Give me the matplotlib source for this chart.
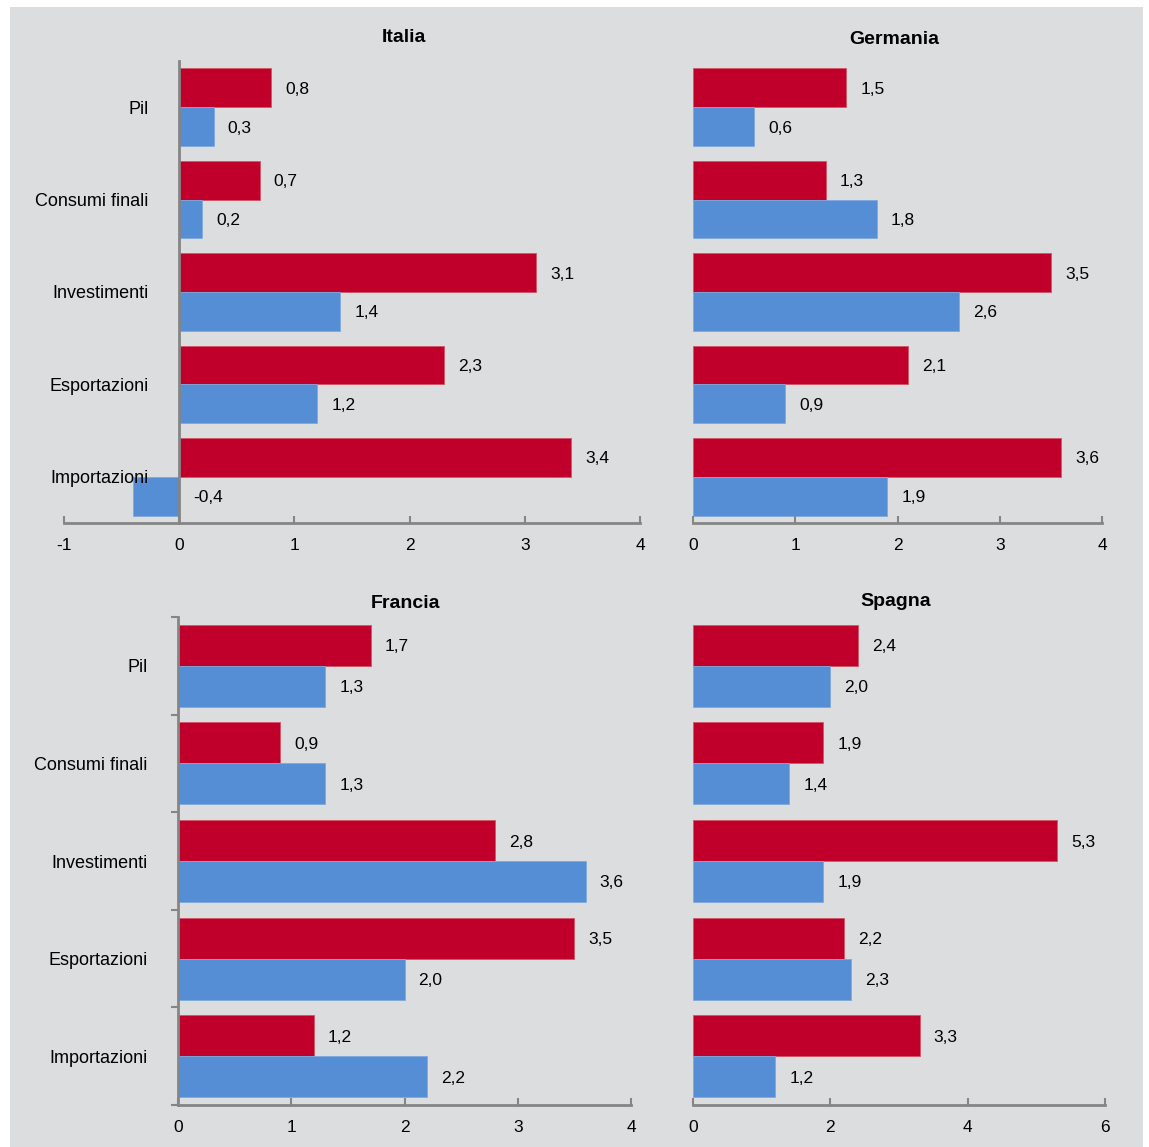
import matplotlib.pyplot as plt
from matplotlib.patches import Rectangle
from matplotlib.ticker import FixedLocator

plt.rcParams['font.family'] = ['Liberation Sans', 'DejaVu Sans']

categorie = ["Pil", "Consumi finali", "Investimenti", "Esportazioni", "Importazioni"]

# serie rossa (barra superiore) e blu (barra inferiore) per paese
italia_rosso = [0.8, 0.7, 3.1, 2.3, 3.4]
italia_blu = [0.3, 0.2, 1.4, 1.2, -0.4]
germania_rosso = [1.5, 1.3, 3.5, 2.1, 3.6]
germania_blu = [0.6, 1.8, 2.6, 0.9, 1.9]
francia_rosso = [1.7, 0.9, 2.8, 3.5, 1.2]
francia_blu = [1.3, 1.3, 3.6, 2.0, 2.2]
spagna_rosso = [2.4, 1.9, 5.3, 2.2, 3.3]
spagna_blu = [2.0, 1.4, 1.9, 2.3, 1.2]

ROSSO = '#C0002A'
BLU = '#558ED5'
SFONDO = '#DCDDDF'
GRIGIO = '#858585'

W, H = 1149, 1147
fig = plt.figure(figsize=(W / 100, H / 100), dpi=100, facecolor='white')
fig.patches.append(Rectangle((10 / W, 0), (1143 - 10) / W, (H - 7) / H,
                             transform=fig.transFigure, facecolor=SFONDO,
                             edgecolor='none', zorder=-10))


def pannello(rect, titolo, titolo_xy, rosso, blu, xlim, xticks, etichette, spine_y):
    x0, y_top, x1, y_bot = rect
    ax = fig.add_axes([x0 / W, (H - y_bot) / H, (x1 - x0) / W, (y_bot - y_top) / H])
    ax.set_facecolor('none')
    h = 0.42
    pos = list(range(len(categorie)))
    ax.barh([p - h / 2 for p in pos], rosso, height=h, color=ROSSO,
            edgecolor='#D2566A', linewidth=0.6)
    ax.barh([p + h / 2 for p in pos], blu, height=h, color=BLU,
            edgecolor='#7FA8DE', linewidth=0.6)
    ax.set_xlim(*xlim)
    ax.set_ylim(len(categorie) - 0.5, -0.5)
    ax.set_xticks(xticks)
    ax.set_xticklabels([str(t) for t in xticks])
    ax.tick_params(axis='x', direction='in', length=5, width=1.5, color=GRIGIO,
                   labelsize=12.5, pad=11)
    for s in ['top', 'right']:
        ax.spines[s].set_visible(False)
    ax.spines['bottom'].set_color(GRIGIO)
    ax.spines['bottom'].set_linewidth(2)
    if spine_y == 'none':
        ax.spines['left'].set_visible(False)
        ax.set_yticks([])
    else:
        ax.spines['left'].set_position(('data', 0))
        ax.spines['left'].set_color(GRIGIO)
        ax.spines['left'].set_linewidth(2)
        ax.set_yticks(pos)
        ax.tick_params(axis='y', which='major', length=0, pad=22, labelsize=13)
        if etichette:
            ax.set_yticklabels(categorie)
        else:
            ax.set_yticklabels([])
        if spine_y == 'ticks':
            ax.yaxis.set_minor_locator(FixedLocator([p - 0.5 for p in range(len(categorie) + 1)]))
            ax.tick_params(axis='y', which='minor', direction='out', length=5,
                           width=1.5, color=GRIGIO)
    # etichette dei valori
    span = xlim[1] - xlim[0]
    off = 14 / (x1 - x0) * span
    for p, v in enumerate(rosso):
        ax.text(max(v, 0) + off, p - h / 2, f"{v:.1f}".replace('.', ','),
                va='center_baseline', ha='left', fontsize=12.5)
    for p, v in enumerate(blu):
        ax.text(max(v, 0) + off, p + h / 2, f"{v:.1f}".replace('.', ','),
                va='center_baseline', ha='left', fontsize=12.5)
    fig.text(titolo_xy[0] / W, 1 - titolo_xy[1] / H, titolo, ha='center',
             va='center_baseline', fontsize=14, fontweight='bold')
    return ax


pannello((64, 61, 640, 523), "Italia", (404, 36), italia_rosso, italia_blu,
         (-1, 4), [-1, 0, 1, 2, 3, 4], True, 'plain')
pannello((693, 61, 1102, 523), "Germania", (894, 38), germania_rosso, germania_blu,
         (0, 4), [0, 1, 2, 3, 4], False, 'none')
pannello((178, 617, 631, 1105), "Francia", (405, 602), francia_rosso, francia_blu,
         (0, 4), [0, 1, 2, 3, 4], True, 'ticks')
pannello((693, 617, 1105, 1105), "Spagna", (896, 600), spagna_rosso, spagna_blu,
         (0, 6), [0, 2, 4, 6], False, 'none')

fig.savefig('out.png', dpi=100, facecolor='white')
